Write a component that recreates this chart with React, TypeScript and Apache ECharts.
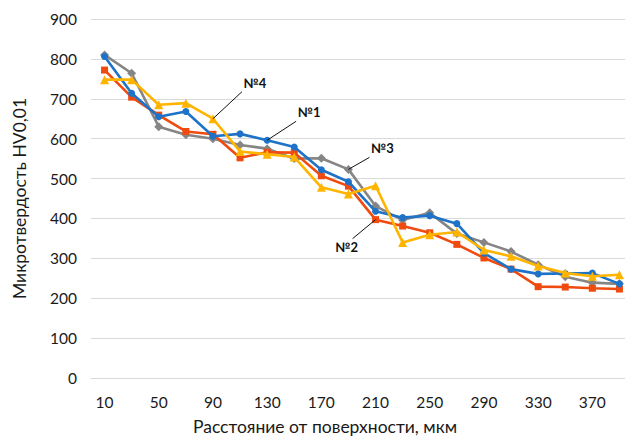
import React, { useEffect, useRef } from "react";
import * as echarts from "echarts";

const categories = ["10","30","50","70","90","110","130","150","170","190","210","230","250","270","290","310","330","350","370","390"];
const series1 = [806, 714, 655, 668, 606, 612, 596, 579, 522, 492, 418, 402, 407, 387, 313, 273, 261, 262, 263, 236];
const series2 = [772, 704, 659, 618, 611, 552, 566, 565, 507, 481, 397, 381, 364, 335, 301, 273, 229, 228, 225, 223];
const series3 = [810, 764, 630, 610, 600, 584, 575, 550, 551, 523, 431, 396, 414, 362, 340, 317, 284, 254, 239, 236];
const series4 = [748, 748, 685, 689, 650, 568, 561, 554, 478, 461, 482, 340, 359, 366, 321, 305, 281, 263, 255, 259];
const seriesNames = ["№1", "№2", "№3", "№4"];
const colors = ["#1E73C8", "#F04B0F", "#858585", "#FFB400"];
const yTicks = { min: 0, max: 900, interval: 100 };
// annotation: [series index, category index, text dx, text dy]
const annotations: [number, number, number, number][] = [
  [3, 4, 42, -36],
  [0, 6, 42, -28],
  [2, 9, 34, -21],
  [1, 10, -29, 27],
];

export default function App() {
  const ref = useRef<HTMLDivElement>(null);
  useEffect(() => {
    if (!ref.current) return;
    const chart = echarts.init(ref.current, null, { renderer: "svg" });
    const font = "Lato, 'Open Sans', sans-serif";
    const data = [series1, series2, series3, series4];
    const symbols = ["circle", "rect", "diamond", "triangle"];
    chart.setOption({
      animation: false,
      textStyle: { fontFamily: font },
      grid: { left: 91, right: -8, top: 19, bottom: 59, containLabel: false, outerBoundsMode: "none" },
      xAxis: {
        type: "category",
        data: categories,
        boundaryGap: true,
        axisLine: { show: true, lineStyle: { color: "#d9d9d9" } },
        axisTick: { show: false },
        axisLabel: { interval: 1, color: "#1a1a1a", fontSize: 15.5, margin: 16, fontFamily: font },
        name: "Расстояние от поверхности, мкм",
        nameLocation: "middle",
        nameGap: 39,
        nameTextStyle: { fontSize: 17.5, color: "#1a1a1a", fontFamily: font, padding: [0, 74, 0, 0] },
      },
      yAxis: {
        type: "value",
        min: yTicks.min,
        max: yTicks.max,
        interval: yTicks.interval,
        axisLine: { show: false },
        axisTick: { show: false },
        splitLine: { lineStyle: { color: "#d9d9d9", width: 1 } },
        axisLabel: { color: "#1a1a1a", fontSize: 15.5, margin: 14, fontFamily: font },
        name: "Микротвердость HV0,01",
        nameLocation: "middle",
        nameGap: 63,
        nameTextStyle: { fontSize: 17.5, color: "#1a1a1a", fontFamily: font },
      },
      series: data.map((d, i) => ({
        name: seriesNames[i],
        type: "line",
        data: d,
        symbol: symbols[i],
        symbolSize: i === 3 ? 9 : i === 2 ? 9 : 7,
        showAllSymbol: true,
        lineStyle: { color: colors[i], width: 2.6 },
        itemStyle: { color: colors[i] },
        z: 2 + (i === 0 ? 3 : i === 1 ? 2 : i === 2 ? 1 : 4),
      })),
    });
    const graphics: any[] = [];
    annotations.forEach(([si, ci, dx, dy]) => {
      const p = chart.convertToPixel({ gridIndex: 0 }, [ci, data[si][ci]]) as number[];
      const tx = p[0] + dx;
      const ty = p[1] + dy;
      const lx = dx > 0 ? tx - 13 : tx + 6;
      const ly = dy > 0 ? ty - 8 : ty + 9;
      graphics.push({
        type: "line",
        shape: { x1: p[0], y1: p[1], x2: lx, y2: ly },
        style: { stroke: "#111", lineWidth: 1 },
        z: 10,
      });
      graphics.push({
        type: "text",
        x: tx,
        y: ty,
        style: {
          text: seriesNames[si],
          font: `bold 13px ${font}`,
          fill: "#111",
          align: "center",
          verticalAlign: "middle",
        },
        z: 10,
      });
    });
    chart.setOption({ graphic: graphics });
    return () => chart.dispose();
  }, []);
  return <div ref={ref} style={{ width: 625, height: 437, position: "absolute", left: 0, top: 0 }} />;
}
